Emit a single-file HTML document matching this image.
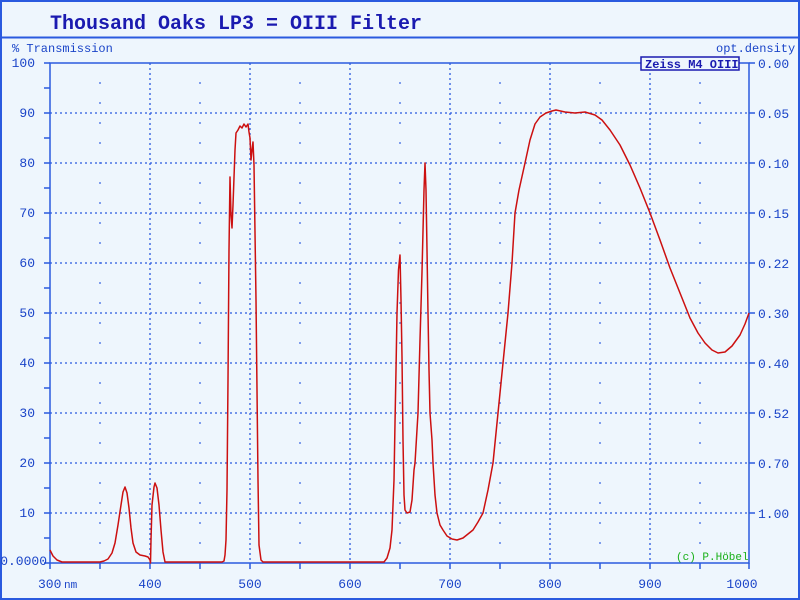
<!DOCTYPE html>
<html><head><style>
html,body{margin:0;padding:0;background:#eef6fd;}
svg{display:block;}
text{font-family:"Liberation Mono","DejaVu Sans Mono",monospace;fill:#1a44c8;}
</style></head><body>
<svg width="800" height="600" viewBox="0 0 800 600" xmlns="http://www.w3.org/2000/svg">
<rect x="0" y="0" width="800" height="600" fill="#eef6fd"/>
<rect x="1" y="1" width="798" height="598" fill="none" stroke="#2a5adf" stroke-width="2"/>
<line x1="0" y1="37.5" x2="800" y2="37.5" stroke="#2a5adf" stroke-width="2"/>
<text x="50" y="29" font-size="20" font-weight="bold" style="fill:#1a1ab0">Thousand Oaks LP3 = OIII Filter</text>
<text x="12" y="52" font-size="12">%  Transmission</text>
<text x="716" y="52" font-size="12">opt.density</text>
<g stroke="#2a5adf" stroke-width="1.3" stroke-dasharray="2,3" fill="none">
<line x1="50" y1="113" x2="749" y2="113"/><line x1="50" y1="163" x2="749" y2="163"/>
<line x1="50" y1="213" x2="749" y2="213"/><line x1="50" y1="263" x2="749" y2="263"/>
<line x1="50" y1="313" x2="749" y2="313"/><line x1="50" y1="363" x2="749" y2="363"/>
<line x1="50" y1="413" x2="749" y2="413"/><line x1="50" y1="463" x2="749" y2="463"/>
<line x1="50" y1="513" x2="749" y2="513"/>
<line x1="150" y1="63" x2="150" y2="563"/><line x1="250" y1="63" x2="250" y2="563"/>
<line x1="350" y1="63" x2="350" y2="563"/><line x1="450" y1="63" x2="450" y2="563"/>
<line x1="550" y1="63" x2="550" y2="563"/><line x1="650" y1="63" x2="650" y2="563"/>
</g>
<g fill="#2a5adf" id="dots"></g>
<g stroke="#2a5adf" stroke-width="1.5" fill="none">
<rect x="50" y="63" width="699" height="500"/>
<path d="M44 63H50M44 88H50M44 113H50M44 138H50M44 163H50M44 188H50M44 213H50M44 238H50M44 263H50M44 288H50M44 313H50M44 338H50M44 363H50M44 388H50M44 413H50M44 438H50M44 463H50M44 488H50M44 513H50M44 538H50M44 563H50"/>
<path d="M749 63H755M749 113H755M749 163H755M749 213H755M749 263H755M749 313H755M749 363H755M749 413H755M749 463H755M749 513H755"/>
<path d="M50 563V569M100 563V569M150 563V569M200 563V569M250 563V569M300 563V569M350 563V569M400 563V569M450 563V569M500 563V569M550 563V569M600 563V569M650 563V569M700 563V569M749 563V569"/>
</g>
<g font-size="13" text-anchor="end">
<text x="35" y="67">100</text><text x="35" y="117">90</text><text x="35" y="167">80</text>
<text x="35" y="217">70</text><text x="35" y="267">60</text><text x="35" y="317">50</text>
<text x="35" y="367">40</text><text x="35" y="417">30</text><text x="35" y="467">20</text>
<text x="35" y="517">10</text><text x="47" y="565">0.0000</text>
</g>
<g font-size="13">
<text x="758" y="68">0.00</text><text x="758" y="118">0.05</text><text x="758" y="168">0.10</text>
<text x="758" y="218">0.15</text><text x="758" y="268">0.22</text><text x="758" y="318">0.30</text>
<text x="758" y="368">0.40</text><text x="758" y="418">0.52</text><text x="758" y="468">0.70</text>
<text x="758" y="518">1.00</text>
</g>
<g font-size="13" text-anchor="middle">
<text x="150" y="588">400</text><text x="250" y="588">500</text><text x="350" y="588">600</text>
<text x="450" y="588">700</text><text x="550" y="588">800</text><text x="650" y="588">900</text>
<text x="742" y="588">1000</text>
</g>
<text x="38" y="588" font-size="13">300</text><text x="64" y="588" font-size="11">nm</text>
<rect x="641" y="57" width="98" height="13" fill="#eef6fd" stroke="#1a1ab0" stroke-width="1.5"/>
<text x="645" y="68" font-size="12" font-weight="bold" style="fill:#1a1ab0">Zeiss M4 OIII</text>
<text x="676" y="560" font-size="11" style="fill:#18b018">(c) P.Höbel</text>
<polyline fill="none" stroke="#cc1010" stroke-width="1.5" stroke-linejoin="round" points="
50,550 53,556 57,560 62,562 100,562 104,561 108,559 112,553 115,543 118,525 121,505 123,492 125,487 127,493 129,508 131,528 133,543 136,552 140,555 145,556 148,557 150,560 150.5,563 151,540 152,505 154,487 155,483 157,488 159,505 161,530 163,552 165,562 170,562 222,562 224,561 225,555 226,540 227,490 228,380 229,250 230,177 231,215 232,228 233,205 235,150 236,133 238,130 240,126 242,128 244,124 246,127 248,124 249,132 250,138 251,160 252,150 253,142 254,165 256,300 258,480 259,545 261,560 263,562 300,562 384,562 387,558 390,548 392,530 394,480 395,423 396,370 397,313 398.5,270 400,255 401,300 402,357 403,440 404,495 405,510 407,513 410,512 412,500 414,470 415,463 418,413 420,340 422,272 424,190 425,163 426,190 427,250 428,313 429,370 430,413 432,440 433,463 435,495 437,513 440,525 443,530 447,536 452,539 457,540 463,538 468,534 473,530 478,522 483,513 488,490 493,463 498,413 503,363 508,313 512,263 515,213 519,190 525,163 530,140 535,124 540,117 546,113 552,111 556,110 565,112 575,113 585,112 595,115 602,120 610,130 620,145 630,165 640,188 650,213 660,240 670,268 680,293 690,318 698,333 705,343 712,350 718,353 725,352 732,346 740,335 745,324 749,313"/>
</svg>
<script>
var g=document.getElementById('dots'),s='';
for(var x=100;x<=700;x+=100){for(var y=83;y<563;y+=20){s+='<rect x="'+(x-0.75)+'" y="'+(y-0.75)+'" width="1.5" height="1.5"/>';}}
g.innerHTML=s;
</script>
</body></html>
